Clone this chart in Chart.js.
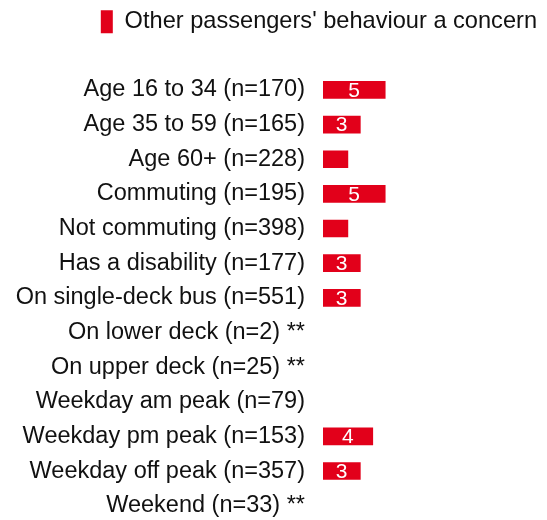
<!DOCTYPE html>
<html>
<head>
<meta charset="utf-8">
<script src="https://cdn.jsdelivr.net/npm/chart.js@4"></script>
<style>
  html, body { margin: 0; padding: 0; background: #fff; overflow: hidden; }
  canvas { display: block; }
</style>
</head>
<body>
<canvas id="barChart" width="547" height="523"></canvas>
<script>
const categories = [
    'Age 16 to 34 (n=170)',
    'Age 35 to 59 (n=165)',
    'Age 60+ (n=228)',
    'Commuting (n=195)',
    'Not commuting (n=398)',
    'Has a disability (n=177)',
    'On single-deck bus (n=551)',
    'On lower deck (n=2) **',
    'On upper deck (n=25) **',
    'Weekday am peak (n=79)',
    'Weekday pm peak (n=153)',
    'Weekday off peak (n=357)',
    'Weekend (n=33) **'
];
const concernValues = [5, 3, 2, 5, 2, 3, 3, null, null, null, 4, 3, null];
const seriesName = "Other passengers' behaviour a concern";
const minLabelValue = 3;

const fontFamily = '"Liberation Sans", Arial, sans-serif';

// pushes the plot down below the legend
const legendSpacer = {
    id: 'legendSpacer',
    beforeInit(chart) {
        const fit = chart.legend.fit;
        chart.legend.fit = function () {
            fit.bind(chart.legend)();
            this.height += 29;
        };
    }
};

// white value labels inside the bars
const barLabels = {
    id: 'barLabels',
    afterDatasetsDraw(chart) {
        const ctx = chart.ctx;
        const meta = chart.getDatasetMeta(0);
        ctx.save();
        ctx.fillStyle = '#ffffff';
        ctx.font = '21px ' + fontFamily;
        ctx.textAlign = 'center';
        ctx.textBaseline = 'middle';
        meta.data.forEach((bar, i) => {
            const v = concernValues[i];
            if (v == null || v < minLabelValue) return;
            ctx.fillText(String(v), (bar.x + bar.base) / 2, bar.y + 1);
        });
        ctx.restore();
    }
};

const barChart = new Chart(document.getElementById('barChart').getContext('2d'), {
    type: 'bar',
    data: {
        labels: categories,
        datasets: [{
            label: seriesName,
            data: concernValues,
            backgroundColor: '#e2001a',
            borderWidth: 0,
            barThickness: 17
        }]
    },
    options: {
        indexAxis: 'y',
        responsive: false,
        animation: false,
        layout: { padding: { top: 0, right: 0, bottom: 0, left: 2 } },
        plugins: {
            tooltip: { enabled: false },
            legend: {
                align: 'end',
                labels: {
                    color: '#111111',
                    font: { family: fontFamily, size: 23.6 },
                    boxWidth: 12,
                    boxHeight: 23,
                    padding: 10
                }
            }
        },
        scales: {
            x: {
                display: false,
                min: 0,
                max: 18
            },
            y: {
                grid: { display: false },
                border: { display: false },
                ticks: {
                    color: '#111111',
                    padding: 10,
                    font: { family: fontFamily, size: 23.5 }
                },
                afterFit(scale) {
                    // wide label column, no extra room above/below the rows
                    scale.width = 321;
                    scale.paddingTop = 0;
                    scale.paddingBottom = 0;
                }
            }
        }
    },
    plugins: [legendSpacer, barLabels]
});
</script>
</body>
</html>
